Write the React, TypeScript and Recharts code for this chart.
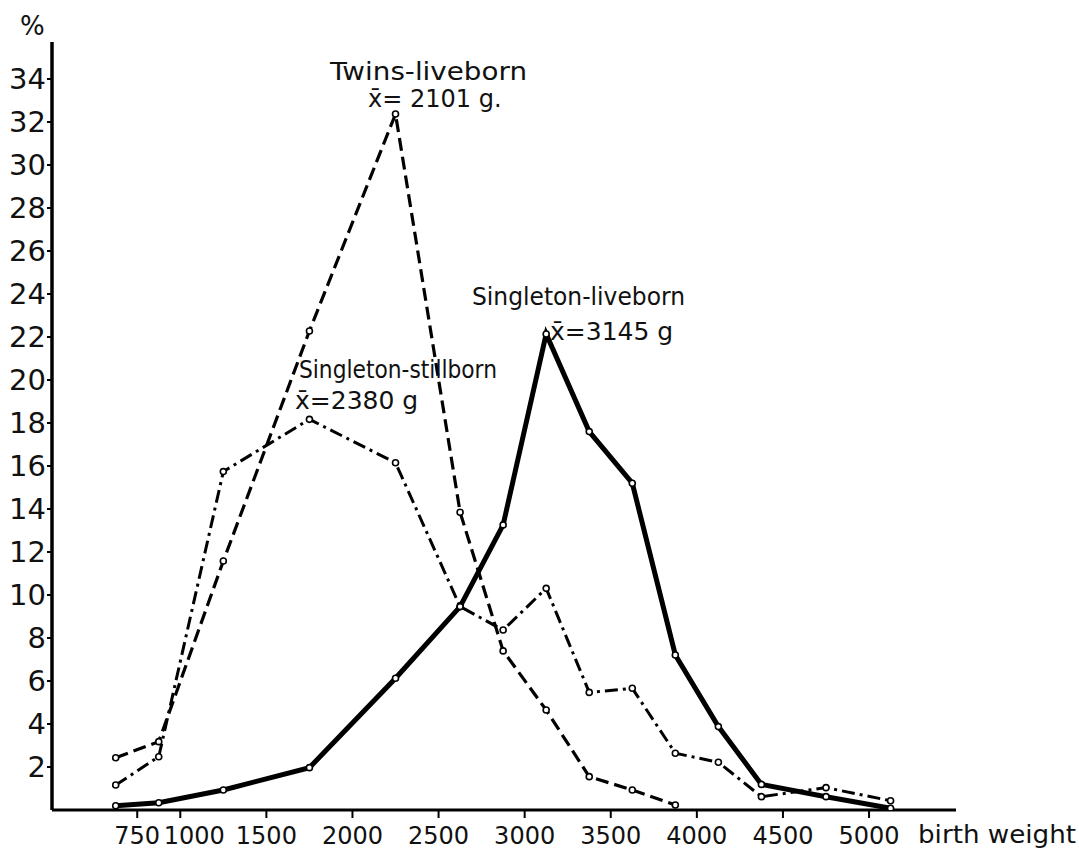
import { LineChart, Line, XAxis, YAxis } from "recharts"

// class midpoints (g)
const weights = [625, 875, 1250, 1750, 2250, 2625, 2875, 3125, 3375, 3625, 3875, 4125, 4375, 4750, 5125]

// % per weight class
const singletonLiveborn = [0.2, 0.34, 0.93, 1.97, 6.13, 9.46, 13.26, 22.14, 17.6, 15.2, 7.21, 3.88, 1.19, 0.62, 0.08]
const singletonStillborn = [1.16, 2.48, 15.74, 18.17, 16.15, 9.46, 8.37, 10.31, 5.47, 5.66, 2.64, 2.22, 0.62, 1.04, 0.43]
const twinsLiveborn = [2.43, 3.18, 11.58, 22.28, 32.37, 13.85, 7.4, 4.65, 1.55, 0.93, 0.23]

const xTicks = [750, 1000, 1500, 2000, 2500, 3000, 3500, 4000, 4500, 5000]
const yTicks = [2, 4, 6, 8, 10, 12, 14, 16, 18, 20, 22, 24, 26, 28, 30, 32, 34]

const toSeries = (vals: number[]) => vals.map((v, i) => ({ w: weights[i], pct: v }))

const font = "'DejaVu Sans', sans-serif"
const dot = { r: 3, fill: "#fff", stroke: "#000", strokeWidth: 1.6, strokeDasharray: "none" }

function XTick(props: any) {
  const { x, y, payload } = props
  // the 1000 label is nudged right in the original so it clears 750
  const shift = payload.value === 1000 ? 14 : 0
  return (
    <text x={x + shift} y={y} dy="0.71em" textAnchor="middle" fontSize={24} fontFamily={font} fill="#111">
      {payload.value}
    </text>
  )
}

export default function App() {
  return (
    <div style={{ position: "absolute", left: 0, top: 0, width: 1079, height: 851, background: "#fff" }}>
      <LineChart width={1079} height={851} margin={{ top: 42, right: 123, bottom: 0, left: 0 }}>
        <XAxis
          type="number"
          dataKey="w"
          domain={[255, 5505]}
          ticks={xTicks}
          allowDataOverflow
          height={41}
          axisLine={{ stroke: "#000", strokeWidth: 3 }}
          tickLine={{ stroke: "#000", strokeWidth: 2 }}
          tickSize={8}
          tickMargin={9}
          tick={<XTick />}
        />
        <YAxis
          type="number"
          domain={[0, 35.72]}
          ticks={yTicks}
          allowDataOverflow
          width={52}
          axisLine={{ stroke: "#000", strokeWidth: 3.5 }}
          tickLine={{ stroke: "#000", strokeWidth: 2 }}
          tickSize={5}
          tickMargin={1}
          tick={{ fill: "#111", fontSize: 29, fontFamily: font }}
        />
        <Line
          data={toSeries(singletonLiveborn)}
          dataKey="pct"
          stroke="#000"
          strokeWidth={5}
          dot={dot}
          activeDot={false}
          isAnimationActive={false}
        />
        <Line
          data={toSeries(twinsLiveborn)}
          dataKey="pct"
          stroke="#000"
          strokeWidth={3.2}
          strokeDasharray="13 6"
          dot={dot}
          activeDot={false}
          isAnimationActive={false}
        />
        <Line
          data={toSeries(singletonStillborn)}
          dataKey="pct"
          stroke="#000"
          strokeWidth={3}
          strokeDasharray="13 5 3 5"
          dot={dot}
          activeDot={false}
          isAnimationActive={false}
        />
      </LineChart>

      {/* annotations */}
      <svg
        width={1079}
        height={851}
        style={{ position: "absolute", left: 0, top: 0, pointerEvents: "none" }}
        fontFamily={font}
        fill="#111"
      >
        <text x={20} y={35} fontSize={26}>%</text>
        <text x={330} y={80} fontSize={25} textLength={197} lengthAdjust="spacingAndGlyphs">Twins-liveborn</text>
        <text x={368} y={107} fontSize={24}>x̄= 2101  g.</text>
        <text x={472} y={305} fontSize={25} textLength={213} lengthAdjust="spacingAndGlyphs">Singleton-liveborn</text>
        <text x={550} y={340} fontSize={25}>x̄=3145 g</text>
        <text x={299} y={378} fontSize={25} textLength={198} lengthAdjust="spacingAndGlyphs">Singleton-stillborn</text>
        <text x={295} y={409} fontSize={25}>x̄=2380 g</text>
        <text x={918} y={843} fontSize={24} textLength={158} lengthAdjust="spacingAndGlyphs">birth weight</text>
      </svg>
    </div>
  )
}
